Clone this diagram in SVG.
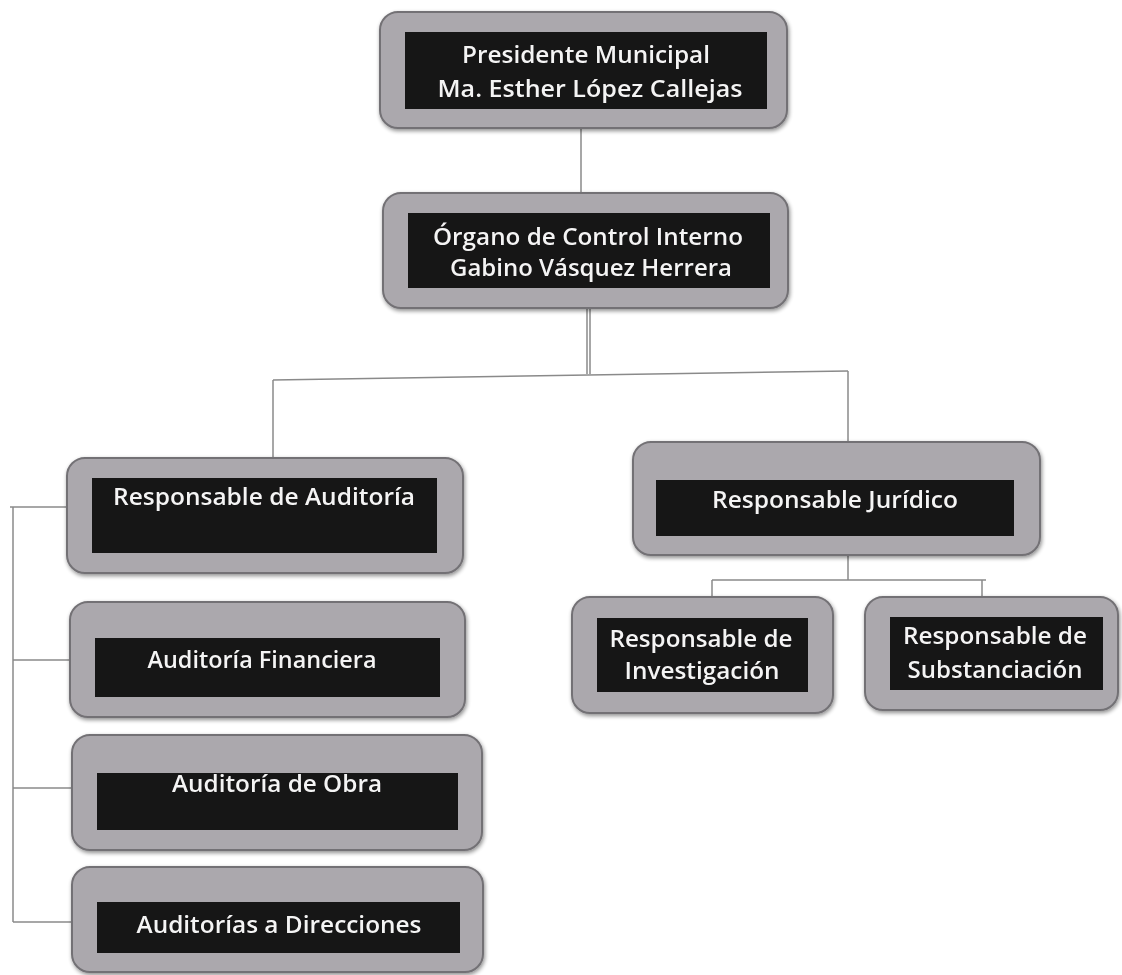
<svg xmlns="http://www.w3.org/2000/svg" width="1122" height="975" viewBox="0 0 1122 975">
<style>
.outer{fill:#aba8ad;stroke:#737175;stroke-width:2}
.inner{fill:#141213}
.t{font-family:"Open Sans","Noto Sans",sans-serif;font-size:23px;font-weight:600;fill:#f4f4f4;text-anchor:middle}
.c{fill:none;stroke:#8a8a8a;stroke-width:1.5}
</style>
<defs>
<filter id="sh" x="-5%" y="-10%" width="110%" height="125%">
<feGaussianBlur in="SourceAlpha" stdDeviation="2"/>
<feOffset dx="1" dy="2" result="b"/>
<feComponentTransfer><feFuncA type="linear" slope="0.45"/></feComponentTransfer>
<feMerge><feMergeNode/><feMergeNode in="SourceGraphic"/></feMerge>
</filter>
</defs>
<rect width="1122" height="975" fill="#ffffff"/>
<g id="connectors">
<path class="c" d="M581 128 V193"/>
<path class="c" d="M587 308 V374 M590 308 V374"/>
<path class="c" d="M273 380 L848 371"/>
<path class="c" d="M273 380 V457"/>
<path class="c" d="M848 371 V442"/>
<path class="c" d="M848 555 V580 M712 580 H986 M712 580 V597 M982 580 V597"/>
<path class="c" d="M10 507 H67 M13 507 V922 M13 660 H70 M13 788 H72 M13 922 H72"/>
</g>
<g id="n1" filter="url(#sh)">
<rect class="outer" x="380" y="12" width="407" height="116" rx="18"/>
<rect class="inner" x="405" y="32" width="362" height="77"/>
<text class="t" x="586" y="63" textLength="248" lengthAdjust="spacingAndGlyphs">Presidente Municipal</text>
<text class="t" x="590" y="97" textLength="305" lengthAdjust="spacingAndGlyphs">Ma. Esther López Callejas</text>
</g>
<g id="n2" filter="url(#sh)">
<rect class="outer" x="383" y="193" width="405" height="115" rx="18"/>
<rect class="inner" x="408" y="213" width="362" height="75"/>
<text class="t" x="588" y="245" textLength="310" lengthAdjust="spacingAndGlyphs">Órgano de Control Interno</text>
<text class="t" x="591" y="276" textLength="282" lengthAdjust="spacingAndGlyphs">Gabino Vásquez Herrera</text>
</g>
<g id="n3" filter="url(#sh)">
<rect class="outer" x="67" y="458" width="396" height="115" rx="18"/>
<rect class="inner" x="92" y="478" width="345" height="75"/>
<text class="t" x="264" y="505" textLength="302" lengthAdjust="spacingAndGlyphs">Responsable de Auditoría</text>
</g>
<g id="n4" filter="url(#sh)">
<rect class="outer" x="70" y="602" width="395" height="115" rx="18"/>
<rect class="inner" x="95" y="638" width="345" height="59"/>
<text class="t" x="262" y="668" textLength="229" lengthAdjust="spacingAndGlyphs">Auditoría Financiera</text>
</g>
<g id="n5" filter="url(#sh)">
<rect class="outer" x="72" y="735" width="410" height="115" rx="18"/>
<rect class="inner" x="97" y="773" width="361" height="57"/>
<text class="t" x="277" y="792" textLength="210" lengthAdjust="spacingAndGlyphs">Auditoría de Obra</text>
</g>
<g id="n6" filter="url(#sh)">
<rect class="outer" x="72" y="867" width="411" height="105" rx="18"/>
<rect class="inner" x="97" y="902" width="363" height="51"/>
<text class="t" x="279" y="933" textLength="285" lengthAdjust="spacingAndGlyphs">Auditorías a Direcciones</text>
</g>
<g id="n7" filter="url(#sh)">
<rect class="outer" x="633" y="442" width="407" height="113" rx="18"/>
<rect class="inner" x="656" y="480" width="358" height="56"/>
<text class="t" x="835" y="508" textLength="246" lengthAdjust="spacingAndGlyphs">Responsable Jurídico</text>
</g>
<g id="n8" filter="url(#sh)">
<rect class="outer" x="572" y="597" width="261" height="116" rx="18"/>
<rect class="inner" x="597" y="618" width="211" height="74"/>
<text class="t" x="701" y="647" textLength="183" lengthAdjust="spacingAndGlyphs">Responsable de</text>
<text class="t" x="702" y="679" textLength="155" lengthAdjust="spacingAndGlyphs">Investigación</text>
</g>
<g id="n9" filter="url(#sh)">
<rect class="outer" x="865" y="597" width="253" height="113" rx="18"/>
<rect class="inner" x="890" y="617" width="213" height="73"/>
<text class="t" x="995" y="644" textLength="184" lengthAdjust="spacingAndGlyphs">Responsable de</text>
<text class="t" x="995" y="678" textLength="175" lengthAdjust="spacingAndGlyphs">Substanciación</text>
</g>
</svg>
